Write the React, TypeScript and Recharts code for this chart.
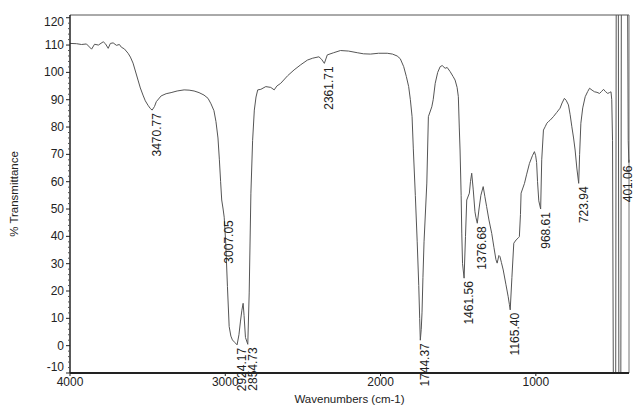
import { LineChart, Line, XAxis, YAxis, ReferenceLine, ReferenceDot, Label } from 'recharts';

// IR spectrum (cm-1 -> %T)
const wavenumbers = [
  4000, 3958, 3926, 3894, 3861, 3842, 3817, 3786, 3772, 3754, 3740, 3722, 3701, 3682, 3669, 3650,
  3626, 3611, 3594, 3579, 3562, 3547, 3530, 3515, 3498, 3483, 3471, 3456, 3444, 3413, 3381, 3349,
  3310, 3265, 3233, 3201, 3169, 3137, 3111, 3092, 3073, 3060, 3047, 3038, 3030, 3023, 3014, 3007,
  2997, 2986, 2975, 2964, 2954, 2939, 2924, 2912, 2902, 2893, 2885, 2879, 2870, 2855, 2846, 2835,
  2824, 2813, 2802, 2791, 2771, 2739, 2707, 2685, 2668, 2643, 2598, 2557, 2514, 2471, 2437, 2397,
  2380, 2362, 2343, 2302, 2258, 2206, 2150, 2110, 2065, 2013, 1957, 1923, 1893, 1873, 1851, 1834,
  1819, 1808, 1797, 1789, 1776, 1764, 1754, 1748, 1744, 1738, 1733, 1727, 1720, 1702, 1692, 1670,
  1661, 1648, 1632, 1616, 1603, 1584, 1571, 1552, 1533, 1520, 1507, 1499, 1493, 1488, 1481, 1477,
  1472, 1462, 1453, 1445, 1428, 1421, 1413, 1403, 1392, 1386, 1377, 1366, 1354, 1339, 1328, 1317,
  1302, 1284, 1270, 1257, 1249, 1238, 1231, 1222, 1210, 1193, 1178, 1170, 1165, 1154, 1142, 1127,
  1112, 1106, 1099, 1095, 1073, 1060, 1041, 1022, 1009, 1001, 995, 989, 981, 969, 962, 951,
  940, 929, 919, 908, 887, 866, 844, 831, 816, 805, 790, 779, 768, 757, 747, 736,
  724, 718, 710, 698, 682, 666, 654, 638, 622, 606, 590, 577, 564, 552, 537, 526,
  516, 511, 506, 500, 486, 482, 469, 465, 453, 449, 410, 405, 401, 400,
];

const transmittance = [
  110.6, 110.5, 110.2, 110.4, 108.5, 110.3, 110.0, 111.2, 110.5, 108.8, 110.6, 110.8, 109.9, 110.2, 109.2, 108.6,
  107.0, 105.6, 103.4, 100.5, 97.2, 94.3, 91.7, 89.6, 88.0, 86.8, 86.2, 87.5, 89.3, 91.4, 92.2, 92.6,
  93.2, 93.6, 93.5, 93.2, 92.6, 91.7, 90.5, 88.5, 86.0, 82.0, 76.0, 68.0, 60.0, 53.3, 50.0, 47.0,
  37.5, 21.6, 7.0, 3.5, 2.1, 1.2, 0.3, 4.0, 9.0, 13.0, 15.5, 11.0, 3.0, 0.5, 19.3, 55.8,
  75.0, 86.2, 91.0, 93.6, 93.8, 94.8, 94.5, 93.6, 95.0, 96.0, 98.8, 100.9, 102.8, 104.5, 105.2, 105.7,
  104.8, 103.3, 106.4, 107.2, 108.0, 107.8, 107.2, 106.8, 106.7, 107.0, 107.0, 106.7, 106.0, 105.0, 102.1, 98.5,
  94.8, 90.0, 83.8, 72.0, 55.0, 38.0, 22.0, 10.0, 2.0, 6.0, 12.0, 25.0, 38.0, 59.5, 83.8, 87.4,
  90.0, 96.0, 100.0, 102.1, 102.5, 101.5, 101.8, 100.3, 98.5, 97.2, 94.5, 91.1, 80.0, 71.6, 55.0, 41.2,
  30.0, 24.7, 40.0, 53.3, 55.8, 60.0, 63.1, 57.0, 49.0, 47.0, 44.8, 50.0, 55.0, 58.2, 54.5, 50.9,
  46.0, 41.1, 36.0, 31.5, 30.2, 33.0, 32.6, 30.5, 27.7, 22.5, 17.9, 15.0, 13.1, 25.0, 37.5, 38.7,
  39.5, 39.9, 48.0, 55.8, 59.4, 62.5, 66.7, 69.5, 71.0, 69.5, 67.0, 60.0, 53.0, 50.0, 68.0, 78.9,
  80.1, 81.4, 82.0, 82.5, 83.8, 85.3, 86.9, 88.8, 90.5, 89.8, 88.1, 84.5, 80.1, 76.0, 71.6, 65.0,
  59.4, 70.0, 81.4, 87.0, 91.1, 93.0, 94.2, 93.5, 92.9, 92.7, 92.3, 93.0, 93.8, 93.0, 92.3, 92.6,
  92.9, 90.0, 75.0, -30, -30, 140, 140, -30, -30, 140, 140, 75.0, 67.0, 68.0,
];

// labelled minima
const peakWavenumbers = [3470.77, 3007.05, 2924.17, 2854.73, 2361.71, 1744.37, 1461.56, 1376.68, 1165.4, 968.61, 723.94, 401.06];
const peakValues = [86.2, 47.0, 0.3, 0.5, 103.3, 2.0, 24.7, 44.8, 13.1, 50.0, 59.4, 67.0];
const peakLabels = ['3470.77', '3007.05', '2924.17', '2854.73', '2361.71', '1744.37', '1461.56', '1376.68', '1165.40', '968.61', '723.94', '401.06'];

const xTicks = [4000, 3000, 2000, 1000];
// every 2 %T; the multiples of 10 get a label
const yTicks = [
  -10, -8, -6, -4, -2, 0, 2, 4, 6, 8, 10, 12, 14, 16, 18, 20, 22, 24, 26, 28, 30, 32, 34, 36, 38, 40, 42, 44,
  46, 48, 50, 52, 54, 56, 58, 60, 62, 64, 66, 68, 70, 72, 74, 76, 78, 80, 82, 84, 86, 88, 90, 92, 94, 96, 98,
  100, 102, 104, 106, 108, 110, 112, 114, 116, 118, 120,
];

const data = wavenumbers.map((w, i) => ({ w, t: transmittance[i] }));

const INK = '#222';

const YTick = ({ x, y, payload }: any) => {
  const v = payload.value;
  const major = v % 10 === 0;
  // the edge labels sit a little inside the frame on the scan
  const nudge = v === -10 ? -6 : v === 120 ? 4 : 0;
  return (
    <g>
      <line x1={x - (major ? 4 : 2)} x2={x} y1={y} y2={y} stroke={major ? INK : '#555'} />
      {major && (
        <text x={x - 6} y={y + nudge} textAnchor="end" dominantBaseline="central" fontSize={12} fill={INK}>
          {v}
        </text>
      )}
    </g>
  );
};

const peakShape = (text: string, dx: number) => (props: any) => {
  const x = props.cx + dx;
  const y = props.cy + 3;
  return (
    <text
      x={x}
      y={y}
      transform={`rotate(-90 ${x} ${y})`}
      textAnchor="end"
      dominantBaseline="central"
      fontSize={12}
      fill={INK}
    >
      {text}
    </text>
  );
};

export default function App() {
  return (
    <div style={{ position: 'absolute', left: 0, top: 0, background: '#fff', fontFamily: '"Liberation Sans", Arial, sans-serif' }}>
      <LineChart width={635} height={407} data={data} margin={{ top: 15, right: 6, left: 0, bottom: 0 }}>
        <XAxis
          dataKey="w"
          type="number"
          domain={[400, 4000]}
          reversed
          ticks={xTicks}
          height={34}
          tickSize={3}
          tickMargin={1}
          axisLine={{ stroke: INK, strokeWidth: 2 }}
          tickLine={{ stroke: INK }}
          tick={{ fontSize: 12, fill: INK }}
        >
          <Label value="Wavenumbers (cm-1)" position="insideBottom" offset={4} fontSize={11.5} fill={INK} />
        </XAxis>
        <YAxis
          type="number"
          domain={[-10, 121]}
          allowDataOverflow
          ticks={yTicks}
          interval={0}
          width={70}
          tickSize={0}
          tickMargin={0}
          axisLine={{ stroke: INK, strokeWidth: 1.5 }}
          tickLine={false}
          tick={<YTick />}
        >
          <Label value="% Transmittance" angle={-90} position="insideLeft" offset={14} fontSize={11.5} fill={INK} style={{ textAnchor: 'middle' }} />
        </YAxis>
        <ReferenceLine y={121} stroke="#555" strokeWidth={1} />
        <ReferenceLine x={400} stroke="#777" strokeWidth={1} />
        <Line
          type="linear"
          dataKey="t"
          stroke="#555"
          strokeWidth={1}
          dot={false}
          isAnimationActive={false}
        />
        {peakWavenumbers.map((w, i) => (
          <ReferenceDot
            key={peakLabels[i]}
            x={w}
            y={peakValues[i]}
            r={0}
            shape={peakShape(peakLabels[i], i === peakLabels.length - 1 ? -1 : 5)}
          />
        ))}
      </LineChart>
    </div>
  );
}
